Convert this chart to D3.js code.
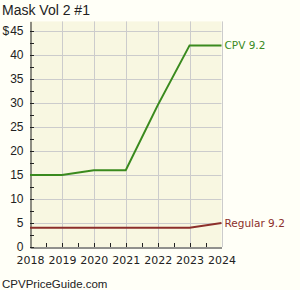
<!DOCTYPE html>
<html><head><meta charset="utf-8">
<script src="https://cdn.jsdelivr.net/npm/d3@7"></script>
<style>
html,body{margin:0;padding:0;background:#fffff7;}
svg{display:block;}
</style></head>
<body>
<script>
const title = "Mask Vol 2 #1";
const footer = "CPVPriceGuide.com";
const years = [2018, 2019, 2020, 2021, 2022, 2023, 2024];
const cpvValues = [15, 15, 16, 16, 29.5, 42, 42];
const regularValues = [4, 4, 4, 4, 4, 4, 5];
const seriesNames = ["CPV 9.2", "Regular 9.2"];
const seriesColors = ["#3a8a1e", "#8c2f2b"];
const yTicks = [0, 5, 10, 15, 20, 25, 30, 35, 40, 45];

const W = 300, H = 290;
const svg = d3.select("body").append("svg").attr("width", W).attr("height", H);
svg.append("rect").attr("width", W).attr("height", H).attr("fill", "#fffff7");

const x = d3.scaleLinear().domain([2018, 2024]).range([30, 221.5]);
const y = d3.scaleLinear().domain([0, 47]).range([247, 21.4]);

// plot background
svg.append("rect").attr("x", x(2018)).attr("y", y(47)).attr("width", x(2024) - x(2018)).attr("height", y(0) - y(47)).attr("fill", "#f8f7e1");

// gridlines
svg.append("g").selectAll("line").data(yTicks.filter(d => d > 0)).join("line")
  .attr("x1", x(2018)).attr("x2", x(2024)).attr("y1", d => Math.round(y(d)) + 0.5).attr("y2", d => Math.round(y(d)) + 0.5)
  .attr("stroke", "#cccccc").attr("stroke-width", 1);
svg.append("g").selectAll("line").data(years.filter(d => d > 2018)).join("line")
  .attr("y1", y(47)).attr("y2", y(0)).attr("x1", d => Math.round(x(d)) + 0.5).attr("x2", d => Math.round(x(d)) + 0.5)
  .attr("stroke", "#cccccc").attr("stroke-width", 1);

// axes
const yAxis = d3.axisLeft(y).tickValues(yTicks).tickSize(0).tickPadding(7).tickFormat(d3.format("d"));
const gy = svg.append("g").attr("transform", "translate(30.5,0)").call(yAxis);
gy.select(".domain").attr("stroke", "#222");
gy.selectAll("text").attr("font-family", "Liberation Sans, Arial, sans-serif").attr("font-size", 12).attr("fill", "#222");

const xAxis = d3.axisBottom(x).tickValues(years).tickSize(0).tickPadding(9).tickFormat(d3.format("d"));
const gx = svg.append("g").attr("transform", "translate(0,247.5)").call(xAxis);
gx.select(".domain").attr("stroke", "#222");
gx.selectAll("text").attr("font-family", "DejaVu Sans, Verdana, sans-serif").attr("font-size", 11).attr("fill", "#222");

// minor ticks inside plot
const yMinor = d3.range(0, 47, 2.5);
svg.append("g").selectAll("line").data(yMinor).join("line")
  .attr("x1", 30).attr("x2", 34).attr("y1", d => Math.round(y(d)) + 0.5).attr("y2", d => Math.round(y(d)) + 0.5)
  .attr("stroke", "#222");
const xMinor = d3.range(2018.5, 2024, 0.5);
svg.append("g").selectAll("line").data(xMinor).join("line")
  .attr("y1", 247).attr("y2", 243).attr("x1", d => Math.round(x(d)) + 0.5).attr("x2", d => Math.round(x(d)) + 0.5)
  .attr("stroke", "#222");

// $ label
svg.append("text").attr("x", 2.5).attr("y", y(45) + 4.3).text("$").attr("font-family", "Liberation Sans, Arial, sans-serif").attr("font-size", 12).attr("fill", "#222");

// lines
const line = d3.line().x((d, i) => x(years[i])).y(d => y(d));
[cpvValues, regularValues].forEach((vals, k) => {
  svg.append("path").attr("d", line(vals)).attr("fill", "none").attr("stroke", seriesColors[k]).attr("stroke-width", 2);
  svg.append("text").attr("x", x(2024) + 3).attr("y", y(vals[vals.length - 1]) + 4)
    .text(seriesNames[k]).attr("font-family", "DejaVu Sans, Verdana, sans-serif").attr("font-size", 10.5).attr("fill", seriesColors[k]);
});

// title & footer
svg.append("text").attr("x", 2).attr("y", 14.5).text(title).attr("font-family", "Liberation Sans, Arial, sans-serif").attr("font-size", 14).attr("fill", "#222");
svg.append("text").attr("x", 2).attr("y", 287.5).text(footer).attr("font-family", "Liberation Sans, Arial, sans-serif").attr("font-size", 11.5).attr("fill", "#222");
</script>
</body></html>
